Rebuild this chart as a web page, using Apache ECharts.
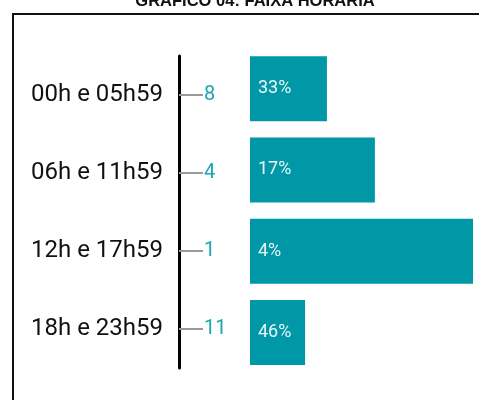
<!DOCTYPE html>
<html>
<head>
<meta charset="utf-8">
<script src="https://cdn.jsdelivr.net/npm/echarts@6/dist/echarts.min.js"></script>
<style>
html,body{margin:0;padding:0;background:#fff;}
#chart{width:479px;height:400px;}
</style>
</head>
<body>
<div id="chart"></div>
<script>
// faixa horaria
var categories = ['00h e 05h59', '06h e 11h59', '12h e 17h59', '18h e 23h59'];
var counts = [8, 4, 1, 11];
var percents = ['33%', '17%', '4%', '46%'];
// comprimento das barras (escala relativa)
var barValues = [34.5, 56, 100, 24.7];

var chart = echarts.init(document.getElementById('chart'));
var option = {
    animation: false,
    title: {
        text: 'GRÁFICO 04: FAIXA HORÁRIA',
        left: 250,
        textAlign: 'center',
        top: -12,
        textStyle: {fontFamily: 'Liberation Sans', fontSize: 16.5, fontWeight: 'bold', color: '#111'}
    },
    graphic: [{
        type: 'rect',
        shape: {x: 13, y: 14, width: 600, height: 500},
        style: {fill: 'none', stroke: '#111', lineWidth: 2}
    }],
    grid: [
        {left: 179, top: 56, width: 60, height: 312},
        {left: 250, top: 48, right: 6, height: 325}
    ],
    xAxis: [
        {gridIndex: 0, type: 'value', min: 0, max: 1, show: false},
        {gridIndex: 1, type: 'value', min: 0, max: 100, show: false}
    ],
    yAxis: [
        {
            gridIndex: 0,
            type: 'category',
            inverse: true,
            data: categories,
            axisLine: {show: true, lineStyle: {color: '#000', width: 3}},
            axisTick: {show: false},
            splitLine: {show: false},
            axisLabel: {margin: 16, padding: [4, 0, 0, 0], fontFamily: 'Roboto', fontSize: 24, color: '#111'}
        },
        {
            gridIndex: 0,
            type: 'category',
            position: 'left',
            inverse: true,
            data: categories,
            axisLine: {show: false},
            axisTick: {show: true, inside: true, alignWithLabel: true, length: 24, lineStyle: {color: '#999', width: 2}},
            splitLine: {show: false},
            axisLabel: {
                inside: true,
                margin: 25,
                padding: [3, 0, 0, 0],
                fontFamily: 'Roboto',
                fontSize: 20,
                color: '#1ea3b4',
                formatter: function (v, i) { return counts[i]; }
            }
        },
        {
            gridIndex: 1,
            type: 'category',
            inverse: true,
            data: categories,
            show: false
        }
    ],
    series: [{
        type: 'bar',
        xAxisIndex: 1,
        yAxisIndex: 2,
        data: barValues,
        barWidth: 65,
        itemStyle: {color: '#0097a7'},
        label: {
            show: true,
            position: 'insideLeft',
            distance: 8,
            fontFamily: 'Roboto',
            fontSize: 18,
            color: '#eaf7f8',
            formatter: function (p) { return percents[p.dataIndex]; }
        }
    }]
};
chart.setOption(option);
</script>
</body>
</html>
